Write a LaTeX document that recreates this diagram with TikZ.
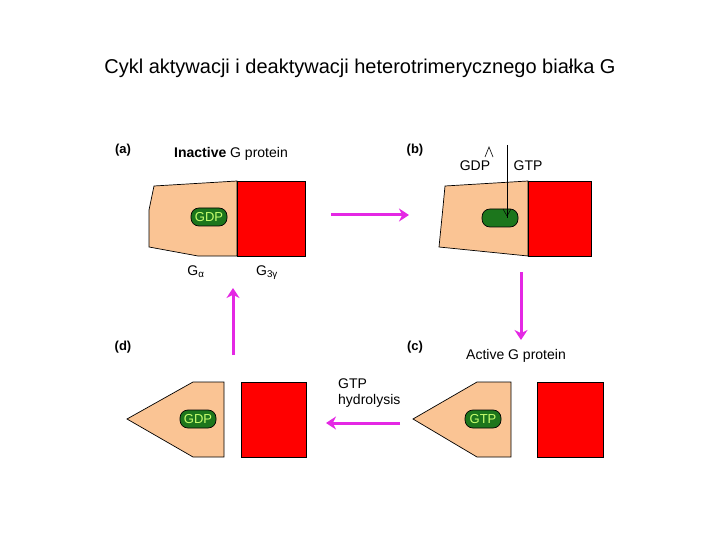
\documentclass[tikz,border=0pt]{standalone}
\usepackage{fontspec}
\setmainfont{Liberation Sans}
\usetikzlibrary{arrows.meta}
\definecolor{peach}{RGB}{250,196,148}
\definecolor{gred}{RGB}{255,0,0}
\definecolor{dgreen}{RGB}{28,118,28}
\definecolor{lgreen}{RGB}{200,255,110}
\definecolor{mag}{RGB}{228,40,228}
\tikzset{
  x=1pt,y=-1pt,
  sub/.style={fill=peach,draw=black,line width=0.7pt},
  bg/.style={fill=gred,draw=black,line width=0.7pt},
  nuc/.style={rectangle,rounded corners=8pt,fill=dgreen,draw=black,line width=0.7pt,
    minimum width=36pt,minimum height=18pt,inner sep=0pt,text=lgreen,font=\fontsize{13}{14}\selectfont},
  tag/.style={font=\bfseries\fontsize{13}{14}\selectfont,inner sep=0pt},
  lab/.style={font=\fontsize{14}{16}\selectfont,inner sep=0pt},
  marr/.style={draw=mag,line width=3pt,-{Stealth[length=10pt,width=13pt]}},
}
\begin{document}
\begin{tikzpicture}
\useasboundingbox (0,0) rectangle (720,540);
\node[font=\fontsize{20}{22}\selectfont,inner sep=0pt] (title) at (360,68) {Cykl aktywacji i deaktywacji heterotrimerycznego białka G};

% (a)
\node[tag] (ta) at (123,150) {(a)};
\node[lab,anchor=west] (ina) at (174,154) {\textbf{Inactive} G protein};
\draw[sub] (154,186) -- (237,181) -- (237,256) -- (198,256) -- (149,247) -- (149,210) -- cycle;
\draw[bg] (237,181) rectangle (305,256);
\node[nuc] (gdpa) at (209,217) {GDP};
\node[lab] (galpha) at (196,272) {G\textsubscript{α}};
\node[lab] (gbg) at (267,273) {G\textsubscript{3γ}};

% (b)
\node[tag] (tb) at (415,150) {(b)};
\draw[sub] (445,186) -- (528,181) -- (528,256) -- (439,247) -- (443,207) -- cycle;
\draw[bg] (528,181) rectangle (591,256);
\node[nuc] (nucb) at (500,218) {};
\node[lab] (gdpb) at (475,166) {GDP};
\node[lab] (gtpb) at (528,166) {GTP};
\coordinate (ctop) at (507,145);
\draw[line width=0.6pt] (ctop) -- (nucb.center -| ctop);
\draw[line width=0.5pt] (503,209) -- (507,216) -- (511,209);
\draw[line width=0.6pt] (485,157) -- (489,147) -- (493,157);

% (c)
\node[tag] (tc) at (415,347) {(c)};
\node[lab] (act) at (516,356) {Active G protein};
\node[lab,align=left,anchor=west] (hyd) at (338,393) {GTP\\hydrolysis};
\draw[sub] (413,419) -- (477,382) -- (511,382) -- (511,457) -- (477,457) -- cycle;
\draw[bg] (537,382) rectangle (603,457);
\node[nuc] (gtpc) at (483,419) {GTP};

% (d)
\node[tag] (td) at (123,347) {(d)};
\draw[sub] (127,419) -- (193,382) -- (224,382) -- (224,457) -- (193,457) -- cycle;
\draw[bg] (241,382) rectangle (306,457);
\node[nuc] (gdpd) at (198,419) {GDP};

% cycle arrows
\coordinate (ab1) at (331,215); \coordinate (ab2) at (409,215);
\coordinate (bc1) at (521,272); \coordinate (bc2) at (521,340);
\coordinate (cd1) at (400,423); \coordinate (cd2) at (326,423);
\coordinate (da1) at (233,355); \coordinate (da2) at (233,288);
\draw[marr] (ab1) -- (ab2);
\draw[marr] (bc1) -- (bc2);
\draw[marr] (cd1) -- (cd2);
\draw[marr] (da1) -- (da2);
\end{tikzpicture}
\end{document}
